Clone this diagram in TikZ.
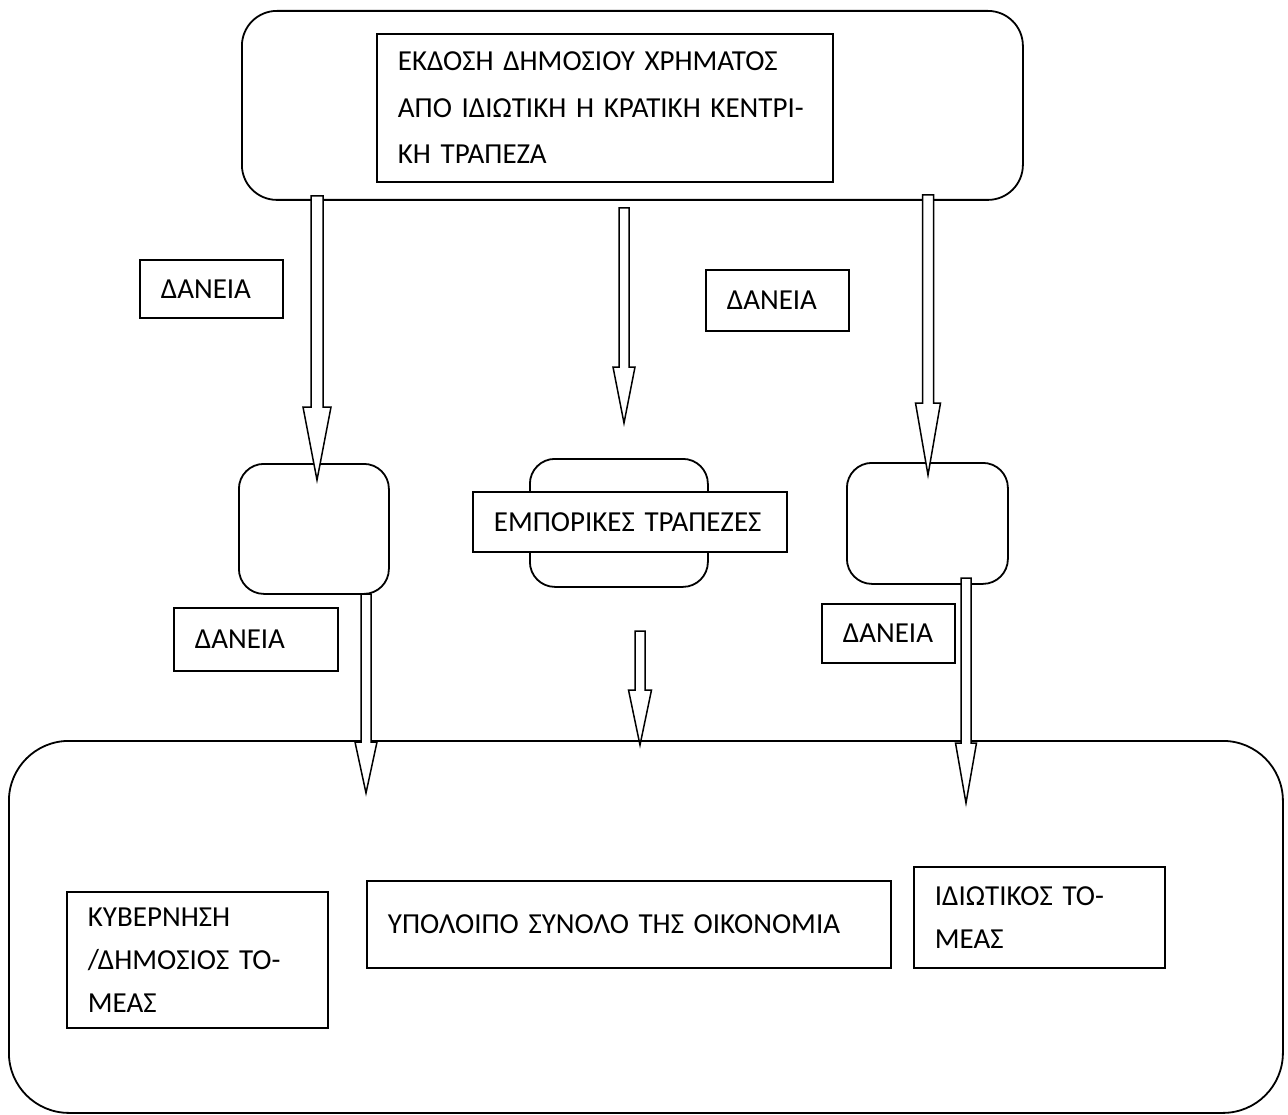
\documentclass[tikz,border=0pt]{standalone}
\usepackage{fontspec}
\setmainfont{Carlito}
\usetikzlibrary{calc}
\usetikzlibrary{positioning}

% block arrow: start, tip, shaft half width, head half width, head length
\newcommand{\fatarrow}[5]{%
\draw[BlockArrow] ($(#1)+(-#3,0)$) -- ($(#1)+(#3,0)$) -- ($(#2)+(#3,-#5)$) -- ($(#2)+(#4,-#5)$) -- (#2) -- ($(#2)+(-#4,-#5)$) -- ($(#2)+(-#3,-#5)$) -- cycle;}

\begin{document}
\begin{tikzpicture}[
x=1pt, y=-1pt,
TextBox/.style={draw,line width=1.8pt,fill=white,align=left,inner xsep=21pt,inner ysep=0pt,anchor=north west,font=\fontsize{29}{43}\selectfont},
RoundBox/.style={draw,line width=1.8pt,rounded corners=#1,anchor=north west,inner sep=0pt},
RoundBox/.default=25pt,
BlockArrow/.style={draw,line width=1.5pt,fill=white,line join=miter}
]
\useasboundingbox (0,0) rectangle (1288,1115);

%top
\node[RoundBox=35pt, minimum width=781, minimum height=189] (issue) at (241,10) {};
\node[TextBox, text width=414pt, minimum width=456, minimum height=148, font=\fontsize{29}{46.5}\selectfont] (central) at (376,33) {ΕΚΔΟΣΗ ΔΗΜΟΣΙΟΥ ΧΡΗΜΑΤΟΣ\\ΑΠΟ ΙΔΙΩΤΙΚΗ Η ΚΡΑΤΙΚΗ ΚΕΝΤΡΙ-\\ΚΗ ΤΡΑΠΕΖΑ};

\node[TextBox, text width=101pt, minimum width=143, minimum height=58] (loanA) at (139,259) {ΔΑΝΕΙΑ};
\node[TextBox, text width=101pt, minimum width=143, minimum height=61] (loanB) at (705,269) {ΔΑΝΕΙΑ};

%middle
\node[RoundBox, minimum width=150, minimum height=130] (leftbank) at (238,463) {};
\node[RoundBox, minimum width=178, minimum height=128] (commbank) at (529,458) {};
\node[TextBox, text width=272pt, minimum width=314, minimum height=60] (commtext) at (472,491) {ΕΜΠΟΡΙΚΕΣ ΤΡΑΠΕΖΕΣ};
\node[RoundBox, minimum width=161, minimum height=121] (rightbank) at (846,462) {};

\node[TextBox, text width=122pt, minimum width=164, minimum height=63] (loanC) at (173,607) {ΔΑΝΕΙΑ};
\node[TextBox, text width=91pt, minimum width=133, minimum height=59] (loanD) at (821,603) {ΔΑΝΕΙΑ};

%bottom
\node[RoundBox=60pt, minimum width=1274, minimum height=372] (economy) at (8,740) {};
\node[TextBox, text width=219pt, minimum width=261, minimum height=136] (public) at (66,891) {ΚΥΒΕΡΝΗΣΗ\\/ΔΗΜΟΣΙΟΣ ΤΟ-\\ΜΕΑΣ};
\node[TextBox, text width=482pt, minimum width=524, minimum height=87] (rest) at (366,880) {ΥΠΟΛΟΙΠΟ ΣΥΝΟΛΟ ΤΗΣ ΟΙΚΟΝΟΜΙΑ};
\node[TextBox, text width=209pt, minimum width=251, minimum height=101] (private) at (913,866) {ΙΔΙΩΤΙΚΟΣ ΤΟ-\\ΜΕΑΣ};

%arrows
\coordinate (a1s) at (317,196); \coordinate (a1e) at (317,480);
\coordinate (a2s) at (624,208); \coordinate (a2e) at (624,423);
\coordinate (a3s) at (928,195); \coordinate (a3e) at (928,475);
\coordinate (a4s) at (366,594); \coordinate (a4e) at (366,793);
\coordinate (a5s) at (640,631); \coordinate (a5e) at (640,745);
\coordinate (a6s) at (966,578); \coordinate (a6e) at (966,803);

\fatarrow{a1s}{a1e}{6}{14}{73}
\fatarrow{a2s}{a2e}{5}{11}{56}
\fatarrow{a3s}{a3e}{5.5}{12.5}{72}
\fatarrow{a4s}{a4e}{5}{11}{51}
\fatarrow{a5s}{a5e}{5}{11.5}{55}
\fatarrow{a6s}{a6e}{5}{10.5}{60}

\end{tikzpicture}
\end{document}
